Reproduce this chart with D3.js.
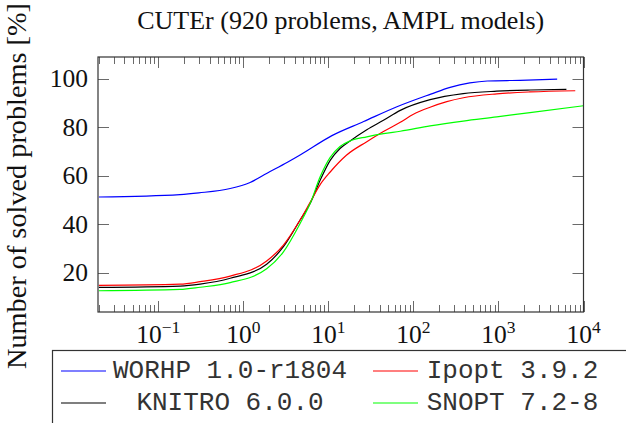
<!DOCTYPE html>
<html><head><meta charset="utf-8">
<script src="https://cdn.jsdelivr.net/npm/d3@7"></script>
<style>body{margin:0;background:#fff}svg{display:block}</style>
</head><body>
<script>
const title = "CUTEr (920 problems, AMPL models)";
const yLabel = "Number of solved problems [%]";
const seriesNames = ["WORHP 1.0-r1804", "Ipopt 3.9.2", "KNITRO 6.0.0", "SNOPT 7.2-8"];
const seriesColors = ["#0000ff", "#ff0000", "#000000", "#00ff00"];
const xTickExps = [-1, 0, 1, 2, 3, 4];
const yTicks = [20, 40, 60, 80, 100];

const worhpX = [0.02, 0.18, 0.3, 0.7, 1.2, 1.9, 3.3, 4.7, 11, 26, 64, 160, 270, 460, 740, 1800, 4900];
const worhpY = [51.2, 52.2, 52.9, 54.7, 57.2, 61.0, 65.5, 68.6, 76.5, 82.3, 88.4, 93.6, 96.4, 98.2, 99.0, 99.3, 99.8];

const ipoptX = [0.02, 0.18, 0.31, 0.7, 1.88, 2.96, 4.65, 6.1, 8.0, 10.5, 16.4, 28.3, 44.4, 70, 100, 157, 247, 387, 955, 2350, 8000];
const ipoptY = [14.8, 15.3, 16.3, 18.6, 24.8, 31.4, 41.7, 49.0, 56.3, 61.5, 68.5, 74.0, 78.2, 82.0, 85.3, 88.2, 90.5, 92.1, 93.7, 94.5, 95.0];

const knitroX = [0.02, 0.18, 0.31, 0.7, 1.88, 2.96, 4.65, 6.1, 8.0, 10.5, 13.7, 18, 28.3, 44.4, 70, 157, 385, 955, 2350, 6300];
const knitroY = [13.95, 14.5, 15.3, 17.7, 23.5, 30.7, 41.7, 48.5, 58.1, 66.3, 71.2, 74.3, 78.9, 82.8, 86.9, 91.3, 93.8, 94.8, 95.3, 95.6];

const snoptX = [0.02, 0.18, 0.31, 0.7, 1.88, 2.96, 4.65, 6.1, 8.0, 10.5, 13.7, 18, 28.3, 44.4, 70, 157, 385, 955, 2350, 10000];
const snoptY = [12.55, 13.1, 14.0, 15.9, 21.6, 28.6, 40.3, 48.5, 59.5, 67.5, 72.0, 74.3, 76.0, 77.3, 78.3, 80.5, 82.5, 84.2, 86.0, 88.8];

const seriesX = [worhpX, ipoptX, knitroX, snoptX];
const seriesY = [worhpY, ipoptY, knitroY, snoptY];

const W = 626, H = 423;
const L = 98, R = 583.5, T = 57, B = 312;

const svg = d3.select("body").append("svg").attr("width", W).attr("height", H);

const x = d3.scaleLog().domain([0.01953, 10000]).range([L, R]);
const y = d3.scaleLinear().domain([3.8, 108.9]).range([B, T]);

svg.append("defs").append("clipPath").attr("id", "clip")
  .append("rect").attr("x", L).attr("y", T).attr("width", R - L).attr("height", B - T);

// ticks
const tickG = svg.append("g").attr("stroke", "#6a6a6a").attr("stroke-width", 1);
const minor = [];
for (let e = -2; e <= 3; e++) for (let m = 2; m <= 9; m++) {
  const v = m * Math.pow(10, e);
  if (v > x.domain()[0] && v < x.domain()[1]) minor.push(v);
}
minor.forEach(v => {
  const px = Math.round(x(v)) + 0.5;
  tickG.append("line").attr("x1", px).attr("x2", px).attr("y1", B).attr("y2", B - 7);
  tickG.append("line").attr("x1", px).attr("x2", px).attr("y1", T).attr("y2", T + 7);
});
xTickExps.forEach(e => {
  const px = Math.round(x(Math.pow(10, e))) + 0.5;
  tickG.append("line").attr("x1", px).attr("x2", px).attr("y1", B).attr("y2", B - 11);
  tickG.append("line").attr("x1", px).attr("x2", px).attr("y1", T).attr("y2", T + 11);
});
yTicks.forEach(v => {
  const py = Math.round(y(v)) + 0.5;
  tickG.append("line").attr("x1", L).attr("x2", L + 11).attr("y1", py).attr("y2", py);
  tickG.append("line").attr("x1", R).attr("x2", R - 11).attr("y1", py).attr("y2", py);
});

// lines
const lineGen = d3.line().x(d => x(d[0])).y(d => y(d[1])).curve(d3.curveMonotoneX);
const lg = svg.append("g").attr("clip-path", "url(#clip)");
[0, 2, 1, 3].forEach(i => {
  const pts = seriesX[i].map((v, k) => [v, seriesY[i][k]]);
  lg.append("path").attr("d", lineGen(pts)).attr("fill", "none")
    .attr("stroke", seriesColors[i]).attr("stroke-width", 1.2);
});

// frame
svg.append("rect").attr("x", L).attr("y", T).attr("width", R - L).attr("height", B - T)
  .attr("fill", "none").attr("stroke", "#333").attr("stroke-width", 1.2);

// x tick labels
const font = "'Liberation Serif', 'Times New Roman', serif";
xTickExps.forEach(e => {
  const t = svg.append("text").attr("x", x(Math.pow(10, e))).attr("y", 343)
    .attr("text-anchor", "middle").attr("font-family", font).attr("font-size", 25.5).attr("fill", "#111");
  t.append("tspan").text("10");
  t.append("tspan").attr("dy", -10).attr("font-size", 17.5).text(e < 0 ? "\u2212" + (-e) : String(e));
});
// y tick labels
yTicks.forEach(v => {
  svg.append("text").attr("x", 88).attr("y", y(v)).attr("dy", "0.34em")
    .attr("text-anchor", "end").attr("font-family", font).attr("font-size", 25.5).attr("fill", "#111").text(v);
});

// title
svg.append("text").attr("x", (L + R) / 2).attr("y", 29).attr("text-anchor", "middle")
  .attr("font-family", font).attr("font-size", 26).attr("fill", "#111").text(title);

// y label
svg.append("text").attr("transform", "translate(26,186) rotate(-90)").attr("text-anchor", "middle")
  .attr("font-family", font).attr("font-size", 27).attr("fill", "#111")
  .attr("textLength", 366).attr("lengthAdjust", "spacingAndGlyphs").text(yLabel);

// legend
svg.append("rect").attr("x", 52.5).attr("y", 350.5).attr("width", 620).attr("height", 120)
  .attr("fill", "#fff").attr("stroke", "#333").attr("stroke-width", 1.2);
const legendPos = [
  {lx: 61, tx: 230, ly: 371, ty: 378},
  {lx: 373, tx: 512.5, ly: 371, ty: 378},
  {lx: 61, tx: 230, ly: 403, ty: 410},
  {lx: 373, tx: 512.5, ly: 403, ty: 410}
];
seriesNames.forEach((name, i) => {
  const p = legendPos[i];
  svg.append("line").attr("x1", p.lx).attr("x2", p.lx + 45).attr("y1", p.ly).attr("y2", p.ly)
    .attr("stroke", seriesColors[i]).attr("stroke-width", 1.1);
  svg.append("text").attr("x", p.tx).attr("y", p.ty).attr("text-anchor", "middle")
    .attr("font-family", "'Liberation Mono', 'Courier New', monospace").attr("font-size", 26)
    .attr("fill", "#333").text(name);
});
</script>
</body></html>
